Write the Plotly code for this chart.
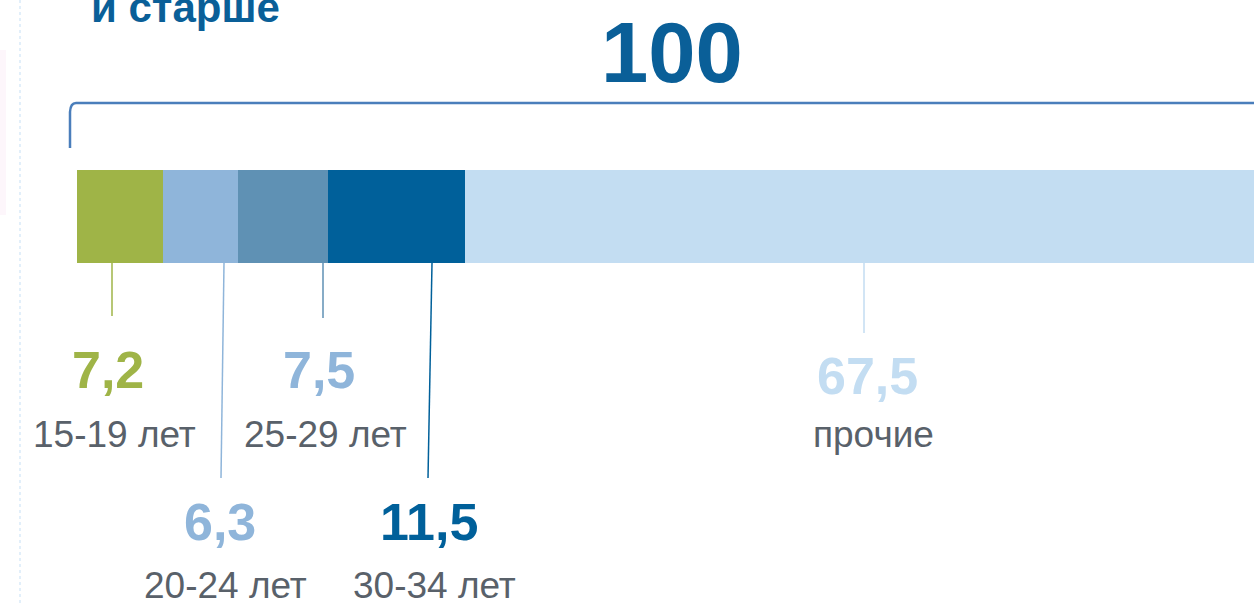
import plotly.graph_objects as go

# ---- data ----
categories = ["15-19 лет", "20-24 лет", "25-29 лет", "30-34 лет", "прочие"]
values = [7.2, 6.3, 7.5, 11.5, 67.5]
colors = ["#9fb447", "#8fb5da", "#5f91b4", "#00609a", "#c3ddf2"]
value_colors = ["#9fb447", "#8fb5da", "#8fb5da", "#00609a", "#c3ddf2"]
title_text = "и старше"

W, H = 1254, 604
BAR_LEFT_PX = 77
PX_PER_PCT = 11.94
FONT = "Arial, Liberation Sans, sans-serif"
TEXT_GREY = "#59616a"

def fmt(v):
    s = f"{v:.1f}".replace(".", ",")
    return s[:-2] if s.endswith(",0") else s

def px(x):
    return x / W

fig = go.Figure()
for cat, v, c in zip(categories, values, colors):
    fig.add_trace(go.Bar(
        x=[v], y=[216.5], width=[93], orientation="h", name=cat,
        marker=dict(color=c, line=dict(width=0)), hoverinfo="skip",
    ))

# label placement (pixel layout)
leaders = [  # (x_top, x_bottom, y_bottom)
    (112, 112, 316),
    (224, 221, 478),
    (323, 323, 318),
    (432, 428, 478),
    (864, 864, 333),
]
val_pos = [(108, 370), (220, 522), (319, 370), (429, 522), (867, 376)]
cat_pos = [(114, 434), (226, 585), (325, 434), (434, 585), (873, 434)]

shapes = []
annotations = []
for i, v in enumerate(values):
    xt, xb, yb = leaders[i]
    shapes.append(dict(type="line", xref="paper", yref="y",
                       x0=px(xt), x1=px(xb), y0=263, y1=yb,
                       line=dict(color=colors[i], width=1.5)))
    annotations.append(dict(xref="paper", yref="y", x=px(val_pos[i][0]), y=val_pos[i][1],
                            text=f"<b>{fmt(v)}</b>", showarrow=False,
                            xanchor="center", yanchor="middle",
                            font=dict(family=FONT, size=52, color=value_colors[i])))
    annotations.append(dict(xref="paper", yref="y", x=px(cat_pos[i][0]), y=cat_pos[i][1],
                            text=categories[i], showarrow=False,
                            xanchor="center", yanchor="middle",
                            font=dict(family=FONT, size=37, color=TEXT_GREY)))

total = sum(values)
annotations.append(dict(xref="paper", yref="y", x=px(672), y=52,
                        text=f"<b>{fmt(total)}</b>", showarrow=False,
                        xanchor="center", yanchor="middle",
                        font=dict(family=FONT, size=85, color="#0a5f98")))
annotations.append(dict(xref="paper", yref="y", x=px(89), y=7,
                        text=f"<b>{title_text}</b>", showarrow=False,
                        xanchor="left", yanchor="middle",
                        font=dict(family=FONT, size=42, color="#0a5f98")))

# bracket
shapes.append(dict(type="path", xref="paper", yref="y",
                   path=f"M {px(70)} 148 L {px(70)} 112 Q {px(70.5)} 103 {px(76)} 103 L {px(1260)} 103",
                   line=dict(color="#4a7ebb", width=2.5)))
# dotted divider
shapes.append(dict(type="line", xref="paper", yref="y", x0=px(20), x1=px(20), y0=0, y1=604,
                   line=dict(color="#c5dff5", width=1, dash="dot")))
# faint pink edge
shapes.append(dict(type="rect", xref="paper", yref="y", x0=0, x1=px(6), y0=50, y1=215,
                   fillcolor="#fdf6fb", line=dict(width=0), layer="below"))

fig.update_layout(
    width=W, height=H, barmode="stack", showlegend=False,
    margin=dict(l=0, r=0, t=0, b=0),
    paper_bgcolor="white", plot_bgcolor="white",
    xaxis=dict(range=[-BAR_LEFT_PX / PX_PER_PCT, (W - BAR_LEFT_PX) / PX_PER_PCT],
               visible=False, fixedrange=True),
    yaxis=dict(range=[H, 0], visible=False, fixedrange=True),
    bargap=0, shapes=shapes, annotations=annotations,
)

fig.write_html("out.html", config={"displayModeBar": False},
               post_script="document.body.style.margin='0';document.body.style.overflow='hidden';")
